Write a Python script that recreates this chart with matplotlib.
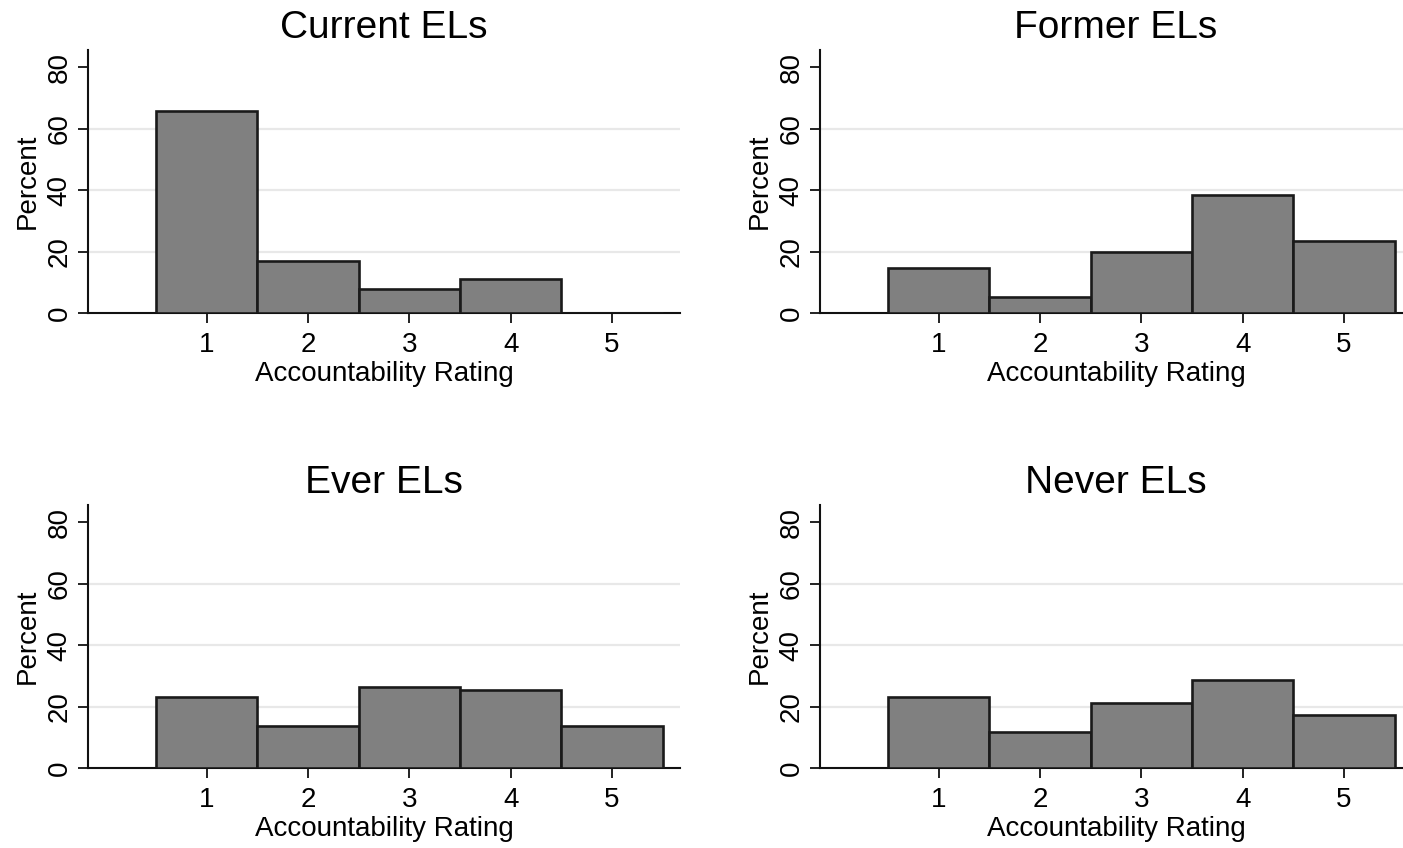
import numpy as np
import matplotlib
matplotlib.use("Agg")
import matplotlib.pyplot as plt

plt.rcParams['font.family'] = ['Liberation Sans', 'DejaVu Sans']

# Accountability rating histograms (percent of students)
ratings = [1, 2, 3, 4, 5]
current_els = [65.8, 16.8, 7.8, 11.0, 0.0]
former_els = [14.5, 5.1, 19.9, 38.4, 23.5]
ever_els = [23.2, 13.7, 26.4, 25.4, 13.7]
never_els = [23.2, 11.6, 21.0, 28.7, 17.3]

panel_titles = ["Current ELs", "Former ELs", "Ever ELs", "Never ELs"]
panel_values = [current_els, former_els, ever_els, never_els]
y_ticks = [0, 20, 40, 60, 80]

fig = plt.figure(figsize=(14.03, 8.48), dpi=100)
fig.patch.set_facecolor("white")

W, H = 1403, 848
ax_w = 592
ax_h = 263
# left, top in pixels
positions = [(88, 50), (820, 50), (88, 505), (820, 505)]

for (left, top), title, vals in zip(positions, panel_titles, panel_values):
    ax = fig.add_axes([left / W, 1 - (top + ax_h) / H, ax_w / W, ax_h / H])
    ax.bar(ratings, vals, width=1.0, color="#808080", edgecolor="#1a1a1a",
           linewidth=1.9, zorder=3)
    ax.set_xlim(-0.17, 5.67)
    ax.set_ylim(0, 85.6)
    ax.set_xticks(ratings)
    ax.set_yticks(y_ticks)
    for g in [20, 40, 60]:
        ax.axhline(g, color="#e8e8e8", linewidth=1.6, zorder=1)
    for s in ["top", "right"]:
        ax.spines[s].set_visible(False)
    for s in ["left", "bottom"]:
        ax.spines[s].set_linewidth(1.5)
        ax.spines[s].set_color("#111111")
    ax.tick_params(axis="both", direction="out", length=7, width=1.3,
                   labelsize=20, color="#111111")
    ax.tick_params(axis="x", pad=7)
    ax.tick_params(axis="y", pad=4)
    for lab in ax.get_yticklabels():
        lab.set_rotation(90)
        lab.set_va("center")
        lab.set_ha("right")
    ax.set_ylabel("Percent", fontsize=20, labelpad=4)
    ax.set_xlabel("Accountability Rating", fontsize=20, labelpad=2)
    ax.set_title(title, fontsize=28, pad=9)
    ax.set_facecolor("white")

fig.savefig("out.png", dpi=100, facecolor="white")
